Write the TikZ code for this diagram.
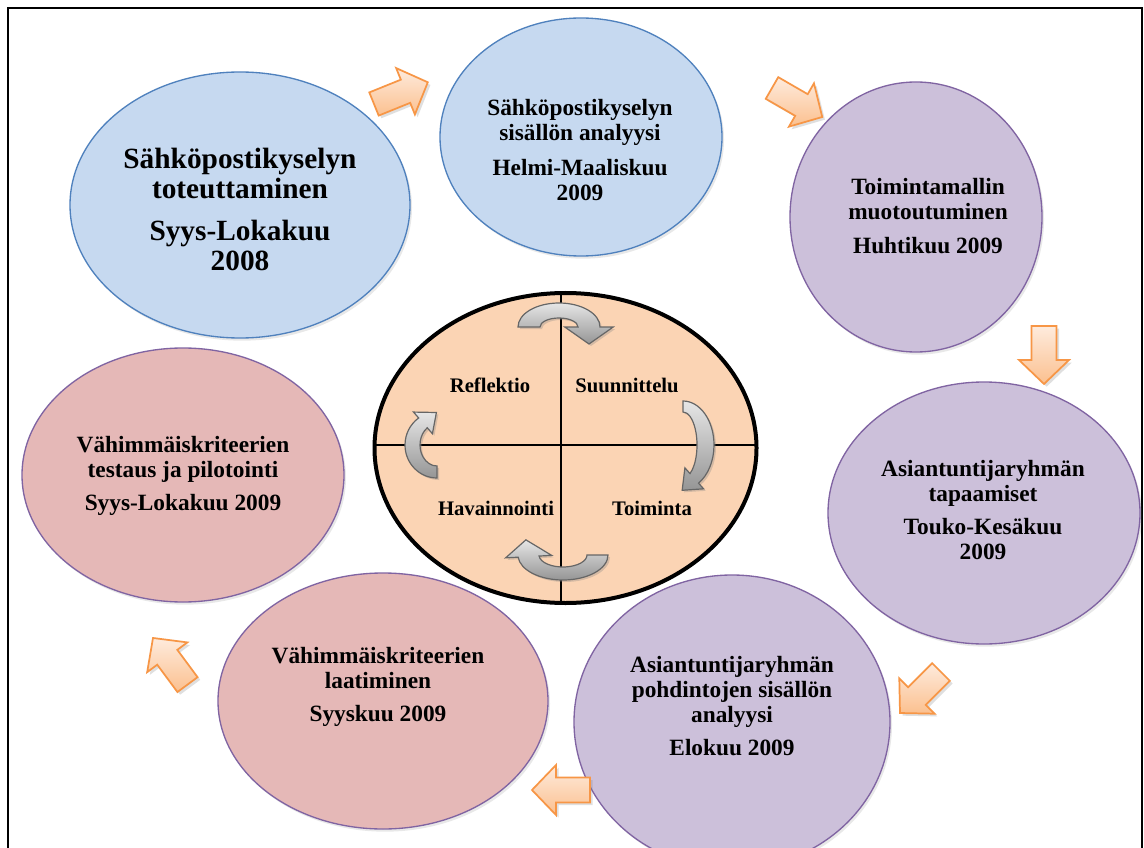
\documentclass[tikz,border=0pt]{standalone}
\usepackage{fontspec}
\setmainfont{Liberation Serif}
\usetikzlibrary{shapes.geometric,shadows}
\definecolor{bluefill}{HTML}{C6D9F0}
\definecolor{blueline}{HTML}{4F81BD}
\definecolor{purfill}{HTML}{CCC0DA}
\definecolor{purline}{HTML}{8064A2}
\definecolor{pinkfill}{HTML}{E5B8B7}
\definecolor{peach}{HTML}{FBD4B4}
\definecolor{orline}{HTML}{F79646}
\definecolor{orlight}{HTML}{FEEBDD}
\definecolor{ordark}{HTML}{FBC08F}
\definecolor{greylight}{HTML}{E6E6E6}
\definecolor{greydark}{HTML}{959595}
\definecolor{greyline}{HTML}{666666}
\tikzset{
 bub/.style={ellipse, inner sep=0pt, line width=1pt, drop shadow={opacity=0.18, shadow xshift=1.5pt, shadow yshift=-2pt}},
 bluebub/.style={bub, fill=bluefill, draw=blueline},
 purbub/.style={bub, fill=purfill, draw=purline},
 pinkbub/.style={bub, fill=pinkfill, draw=purline},
 txt/.style={align=center, font=\fontsize{17.5}{18.75}\selectfont\bfseries, inner sep=0pt},
 bigtxt/.style={align=center, font=\fontsize{22}{22.5}\selectfont\bfseries, inner sep=0pt},
 lbl/.style={font=\fontsize{15.5}{17}\selectfont\bfseries, inner sep=0pt},
 blockarr/.style={draw=orline, line width=1.3pt, line join=miter, top color=orlight, bottom color=ordark, drop shadow={opacity=0.25, shadow xshift=2pt, shadow yshift=-2pt}},
 grayarrow/.style={draw=greyline, line width=0.9pt, top color=greylight, bottom color=greydark, drop shadow={opacity=0.3, shadow xshift=1.5pt, shadow yshift=-1.5pt}},
 frameline/.style={line width=1.7pt, draw=black},
 quadline/.style={line width=1.2pt, draw=black},
}
\newcommand{\blockarrow}[3]{%
 \begin{scope}[shift={(#1,#2)}, rotate=#3]
 \path[blockarr] (0,-12.5) -- (34,-12.5) -- (34,-25) -- (58,0) -- (34,25) -- (34,12.5) -- (0,12.5) -- cycle;
 \end{scope}}
\newcommand{\curvarr}[8]{%
 \pgfmathsetmacro\Pox{#1+#3*cos(#8)}%
 \pgfmathsetmacro\Poy{#2+#4*sin(#8)}%
 \pgfmathsetmacro\Pix{#1+#5*cos(#8)}%
 \pgfmathsetmacro\Piy{#2+#6*sin(#8)}%
 \pgfmathsetmacro\Wox{\Pox+0.6*(\Pox-\Pix)}%
 \pgfmathsetmacro\Woy{\Poy+0.6*(\Poy-\Piy)}%
 \pgfmathsetmacro\Wix{\Pix-0.6*(\Pox-\Pix)}%
 \pgfmathsetmacro\Wiy{\Piy-0.6*(\Poy-\Piy)}%
 \pgfmathsetmacro\tgx{-(#3+#5)/2*sin(#8)}%
 \pgfmathsetmacro\tgy{(#4+#6)/2*cos(#8)}%
 \pgfmathsetmacro\tgn{sqrt(\tgx*\tgx+\tgy*\tgy)}%
 \pgfmathsetmacro\Tx{(\Pox+\Pix)/2+17*\tgx/\tgn}%
 \pgfmathsetmacro\Ty{(\Poy+\Piy)/2+17*\tgy/\tgn}%
 \pgfmathsetmacro\Six{#1+#5*cos(#7)}%
 \pgfmathsetmacro\Siy{#2+#6*sin(#7)}%
 \pgfmathsetmacro\Sox{#1+#3*cos(#7)}%
 \pgfmathsetmacro\Soy{#2+#4*sin(#7)}%
 \path[grayarrow] (\Six,\Siy) -- (\Sox,\Soy) arc[start angle=#7, end angle=#8, x radius=#3, y radius=#4]
   -- (\Wox,\Woy) -- (\Tx,\Ty) -- (\Wix,\Wiy) -- (\Pix,\Piy)
   arc[start angle=#8, end angle=#7, x radius=#5, y radius=#6] -- cycle;}
\begin{document}
\begin{tikzpicture}[x=0.75pt, y=-0.75pt]
\useasboundingbox (0,0) rectangle (1144,848);
\clip (0,0) rectangle (1144,848);
\fill[white] (0,0) rectangle (1144,848);
% frame
\coordinate (fbl) at (8,870);
\coordinate (ftl) at (8,8);
\coordinate (ftr) at (1142,8);
\coordinate (fbr) at (1142,870);
\draw[frameline] (fbl) -- (ftl) -- (ftr) -- (fbr);
% bubbles
\node[bluebub, minimum width=255pt, minimum height=199.5pt] (e1) at (240,205) {};
\node[bluebub, minimum width=211.5pt, minimum height=178.5pt] (e2) at (581,137) {};
\node[purbub, minimum width=189pt, minimum height=202.5pt] (e3) at (916,217) {};
\node[purbub, minimum width=234pt, minimum height=196.5pt] (e4) at (984,513) {};
\node[purbub, minimum width=237pt, minimum height=220.5pt] (e5) at (732,722) {};
\node[pinkbub, minimum width=247.5pt, minimum height=192pt] (e6) at (383,701) {};
\node[pinkbub, minimum width=241.5pt, minimum height=190.5pt] (e7) at (183,475) {};
% texts
\node[bigtxt] (t1) at (240,209) {Sähköpostikyselyn\\toteuttaminen\\[9pt]Syys-Lokakuu\\2008};
\node[txt] (t2) at (580,150) {Sähköpostikyselyn\\sisällön analyysi\\[8pt]Helmi-Maaliskuu\\2009};
\node[txt] (t3) at (928,216) {Toimintamallin\\muotoutuminen\\[6.5pt]Huhtikuu 2009};
\node[txt] (t4) at (983,510) {Asiantuntijaryhmän\\tapaamiset\\[6.5pt]Touko-Kesäkuu\\2009};
\node[txt] (t5) at (732,706) {Asiantuntijaryhmän\\pohdintojen sisällön\\analyysi\\[6.5pt]Elokuu 2009};
\node[txt] (t6) at (378,687) {Vähimmäiskriteerien\\laatiminen\\[6.5pt]Syyskuu 2009};
\node[txt] (t7) at (183,476) {Vähimmäiskriteerien\\testaus ja pilotointi\\[6.5pt]Syys-Lokakuu 2009};
% centre cycle
\node[ellipse, inner sep=0pt, fill=peach, minimum width=286.5pt, minimum height=232.5pt] (c) at (565.5,448) {};
\coordinate (vt) at (561,293);
\coordinate (vb) at (561,603);
\coordinate (hl) at (374.5,445);
\coordinate (hr) at (756.5,445);
\draw[quadline] (vt) -- (vb);
\draw[quadline] (hl) -- (hr);
\node[ellipse, inner sep=0pt, draw=black, line width=3pt, minimum width=286.5pt, minimum height=232.5pt] (cb) at (565.5,448) {};
\node[lbl] (l1) at (490,385) {Reflektio};
\node[lbl] (l2) at (627,385) {Suunnittelu};
\node[lbl] (l3) at (496,508) {Havainnointi};
\node[lbl] (l4) at (652,508) {Toiminta};
% grey cycle arrows
\curvarr{559}{327}{41}{24}{19}{9}{180}{360}
\curvarr{683}{445}{31}{44}{14}{33}{-90}{60}
\curvarr{563}{555}{45}{25}{24}{12}{0}{175}
\curvarr{437}{445}{32}{33}{17}{21}{90}{235}
% orange block arrows
\blockarrow{374}{104}{22}
\blockarrow{772}{88}{-30}
\blockarrow{1044}{326}{-90}
\blockarrow{941}{672}{-135}
\blockarrow{590}{790}{180}
\blockarrow{187.5}{684.6}{126.5}
\end{tikzpicture}
\end{document}
